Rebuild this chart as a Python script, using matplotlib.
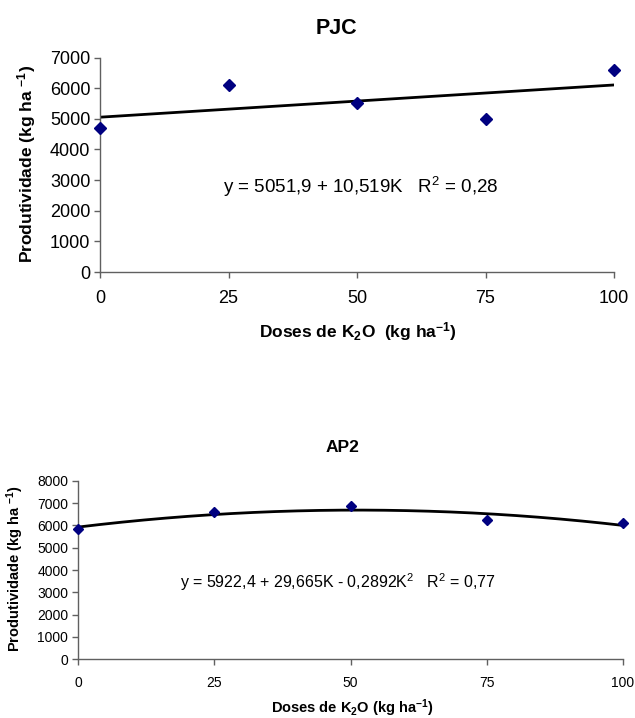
import numpy as np
import matplotlib
matplotlib.use("Agg")
import matplotlib.pyplot as plt

plt.rcParams['font.family'] = ['Liberation Sans', 'DejaVu Sans']
plt.rcParams['mathtext.default'] = 'regular'

# Data
doses = [0, 25, 50, 75, 100]
pjc_yield = [4700, 6100, 5500, 4980, 6590]
ap2_yield = [5850, 6600, 6880, 6250, 6100]
pjc_coef = [5051.9, 10.519]            # linear fit
ap2_coef = [5922.4, 29.665, -0.2892]   # quadratic fit
pjc_yticks = [0, 1000, 2000, 3000, 4000, 5000, 6000, 7000]
ap2_yticks = [0, 1000, 2000, 3000, 4000, 5000, 6000, 7000, 8000]

W, H = 635, 718
fig = plt.figure(figsize=(W / 100, H / 100), dpi=100)

def fx(px):
    return px / W

def fy(py):
    return 1 - py / H

spine_col = '#606060'
mark_col = '#000080'

def style(ax, fs):
    for s in ['top', 'right']:
        ax.spines[s].set_visible(False)
    for s in ['left', 'bottom']:
        ax.spines[s].set_color(spine_col)
        ax.spines[s].set_linewidth(1.0)
    ax.tick_params(direction='out', length=4, width=1.0, color=spine_col,
                   labelsize=fs, pad=3)

# ---- Top: PJC ----
ax1 = fig.add_axes([fx(100), fy(272), fx(614 - 100), (272 - 57.5) / H])
style(ax1, 13)
ax1.tick_params(axis='x', pad=9)
xx = np.linspace(0, 100, 200)
ax1.plot(xx, pjc_coef[0] + pjc_coef[1] * xx, color='black', lw=2.0)
ax1.plot(doses, pjc_yield, linestyle='none', marker='D', ms=6.5,
         color=mark_col, clip_on=False, zorder=5)
ax1.set_xlim(0, 100)
ax1.set_ylim(0, 7000)
ax1.set_xticks(doses)
ax1.set_yticks(pjc_yticks)
fig.text(fx(336), fy(29), 'PJC', ha='center', va='center', fontsize=15.5,
         fontweight='bold')
fig.text(fx(27), fy(164), 'Produtividade (kg ha $^{-1}$)', rotation=90,
         ha='center', va='center', fontsize=12.5, fontweight='bold')
fig.text(fx(358), fy(332), 'Doses de K$_2$O  (kg ha$^{-1}$)', ha='center',
         va='center', fontsize=12.5, fontweight='bold')
fig.text(fx(361), fy(187), 'y = 5051,9 + 10,519K   R$^2$ = 0,28',
         ha='center', va='center', fontsize=13.5)

# ---- Bottom: AP2 ----
ax2 = fig.add_axes([fx(78), fy(659.3), fx(623 - 78), (659.3 - 480.7) / H])
style(ax2, 10)
ax2.tick_params(axis='x', pad=8)
ax2.plot(xx, ap2_coef[0] + ap2_coef[1] * xx + ap2_coef[2] * xx ** 2,
         color='black', lw=2.0)
ax2.plot(doses, ap2_yield, linestyle='none', marker='D', ms=5.5,
         color=mark_col, clip_on=False, zorder=5)
ax2.set_xlim(0, 100)
ax2.set_ylim(0, 8000)
ax2.set_xticks(doses)
ax2.set_yticks(ap2_yticks)
fig.text(fx(342), fy(447), 'AP2', ha='center', va='center', fontsize=12.5,
         fontweight='bold')
fig.text(fx(15), fy(568), 'Produtividade (kg ha $^{-1}$)', rotation=90,
         ha='center', va='center', fontsize=10.5, fontweight='bold')
fig.text(fx(352), fy(708), 'Doses de K$_2$O (kg ha$^{-1}$)', ha='center',
         va='center', fontsize=10.5, fontweight='bold')
fig.text(fx(338), fy(582), 'y = 5922,4 + 29,665K - 0,2892K$^2$   R$^2$ = 0,77',
         ha='center', va='center', fontsize=11.5)

fig.savefig('out.png', dpi=100)
